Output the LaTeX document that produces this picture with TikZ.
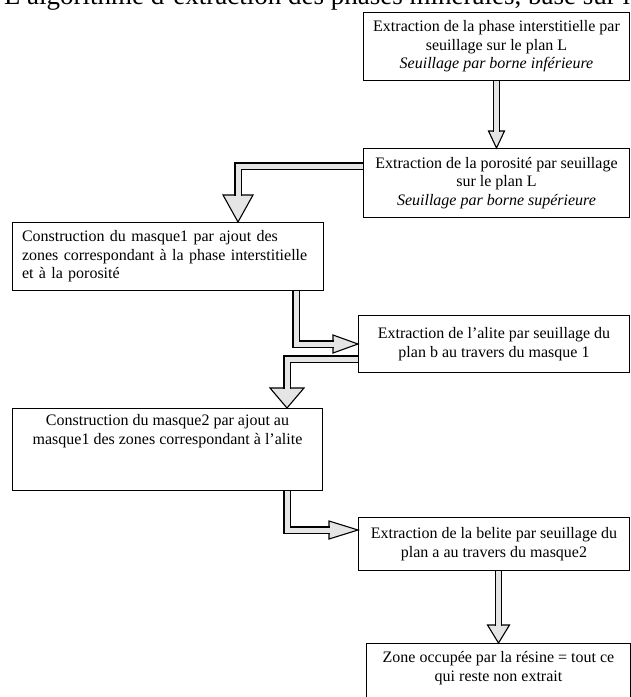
\documentclass[tikz,border=0pt]{standalone}
\usepackage{fontspec}
\setmainfont{Liberation Serif}
\usetikzlibrary{calc}
\begin{document}
\begin{tikzpicture}[x=1pt,y=-1pt,
  box/.style={draw=black, line width=1pt, anchor=north west, inner sep=0pt,
    align=center, font=\fontsize{16}{18.5}\selectfont},
  shaft/.style={draw=black, line width=1.1pt, double=black!10, double distance=5pt, line join=miter},
  head/.style={draw=black, line width=1.1pt, fill=black!10, line join=miter},
  titletext/.style={anchor=base west, inner sep=0pt, font=\fontsize{27}{27}\selectfont}]
\useasboundingbox (0,0) rectangle (631,697);

\node[titletext] (title) at (4,4.5) {L'algorithme d'extraction des phases minérales, basé sur la};

\node[box, minimum width=266pt, minimum height=68pt] (b1) at (363,12)
  {Extraction de la phase interstitielle par\\seuillage sur le plan L\\\textit{Seuillage par borne inférieure}};
\node[box, minimum width=266pt, minimum height=69pt] (b2) at (363,148)
  {Extraction de la porosité par seuillage\\sur le plan L\\\textit{Seuillage par borne supérieure}};
\node[box, minimum width=311pt, minimum height=68pt, text width=292pt, align=left] (b3) at (12,222)
  {Construction du masque1 par ajout des\\zones correspondant à la phase interstitielle\\et à la porosité};
\node[box, minimum width=271pt, minimum height=57pt] (b4) at (358,315)
  {Extraction de l'alite par seuillage du\\plan b au travers du masque 1};
\node[box, minimum width=310pt, minimum height=82pt] (b5) at (12,408)
  {\parbox[c][70pt][t]{300pt}{\centering Construction du masque2 par ajout au\\masque1 des zones correspondant à l'alite}};
\node[box, minimum width=271pt, minimum height=53pt] (b6) at (358,517)
  {Extraction de la belite par seuillage du\\plan a au travers du masque2};
\node[box, minimum width=264pt, minimum height=100pt] (b7) at (366,643)
  {\parbox[c][84pt][t]{250pt}{\centering Zone occupée par la résine = tout ce\\qui reste non extrait}};

% arrow 1
\draw[head] ($(b2.north)+(-8,-17)$) -- (b2.north) -- ($(b2.north)+(8,-17)$) -- cycle;
\draw[shaft] (b1.south) -- ($(b2.north)+(0,-16)$);
% arrow 2
\draw[head] ($(b3.north west)+(211,-27)$) -- ($(b3.north west)+(226,0)$) -- ($(b3.north west)+(241,-27)$) -- cycle;
\draw[shaft] ($(b2.north west)+(0,18)$) -| ($(b3.north west)+(226,-26)$);
% arrow 3
\draw[head] ($(b4.west)+(-25,-9)$) -- (b4.west) -- ($(b4.west)+(-25,9)$) -- cycle;
\draw[shaft] ($(b3.south west)+(284,0)$) |- ($(b4.west)+(-24,0)$);
% arrow 4
\draw[head] ($(b5.north west)+(258,-20)$) -- ($(b5.north west)+(275,0)$) -- ($(b5.north west)+(292,-20)$) -- cycle;
\draw[shaft] ($(b4.west)+(0,15)$) -| ($(b5.north west)+(275,-19)$);
% arrow 5
\draw[head] ($(b6.north west)+(-29,4)$) -- ($(b6.north west)+(0,13)$) -- ($(b6.north west)+(-29,22)$) -- cycle;
\draw[shaft] ($(b5.south west)+(275,0)$) |- ($(b6.north west)+(-28,13)$);
% arrow 6
\draw[head] ($(b7.north)+(-11,-18)$) -- (b7.north) -- ($(b7.north)+(11,-18)$) -- cycle;
\draw[shaft] (b6.south -| b7.north) -- ($(b7.north)+(0,-17)$);
\end{tikzpicture}
\end{document}
